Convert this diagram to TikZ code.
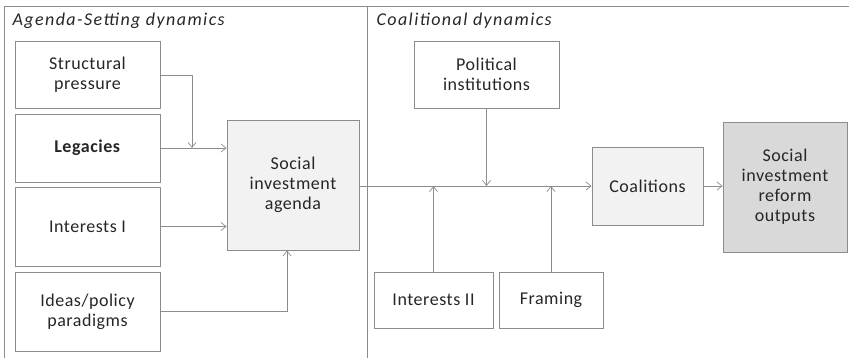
\documentclass[tikz,border=0pt]{standalone}
\usepackage{fontspec}
\setmainfont{Carlito}[LetterSpace=3]
\usetikzlibrary{arrows.meta}
\definecolor{edgegray}{HTML}{8C8C8C}
\definecolor{lightfill}{HTML}{F2F2F2}
\definecolor{darkfill}{HTML}{D9D9D9}
\begin{document}
\begin{tikzpicture}[x=1pt, y=-1pt,
  box/.style={draw=edgegray, line width=0.8pt, align=center, inner sep=2pt,
    font=\fontsize{18}{20}\selectfont, text=black!85},
  link/.style={draw=edgegray, line width=0.7pt, -{Straight Barb[length=5pt, width=8pt]}},
  title/.style={anchor=west, font=\fontsize{18}{20}\selectfont\itshape\addfontfeature{LetterSpace=8}, text=black!85}]
\useasboundingbox (0,0) rectangle (849,358);
% frame of the two panels
\draw[edgegray, line width=0.8pt] (4,358) -- (4,6) -- (849,6);
\draw[edgegray, line width=0.8pt] (367,6) -- (367,358);
\node (t1)[title] at (9,21) {Agenda-Setting dynamics};
\node (t2)[title] at (373,21) {Coalitional dynamics};
% agenda-setting side
\node (sp)[box, minimum width=145, minimum height=67] at (87.5,74.5) {Structural\\pressure};
\node (leg)[box, minimum width=145, minimum height=68] at (87.5,148) {\textbf{Legacies}};
\node (int1)[box, minimum width=145, minimum height=79] at (87.5,226.5) {Interests I};
\node (ideas)[box, minimum width=145, minimum height=79] at (87.5,311.5) {Ideas/policy\\paradigms};
\node (sia)[box, fill=lightfill, minimum width=132, minimum height=130] at (293,185) {Social\\investment\\agenda};
% coalitional side
\node (pol)[box, minimum width=145, minimum height=67] at (486.5,74.5) {Political\\institutions};
\node (int2)[box, minimum width=119, minimum height=56] at (433.5,300) {Interests II};
\node (fram)[box, minimum width=104, minimum height=56] at (551,300) {Framing};
\node (coal)[box, fill=lightfill, minimum width=111, minimum height=78] at (647.5,186) {Coalitions};
\node (siro)[box, fill=darkfill, minimum width=124, minimum height=130] at (785,187) {Social\\investment\\reform\\outputs};
\coordinate (m1) at (192,148);
\coordinate (main) at (0,186);
% connectors
\draw[link] (sp.east |- 0,75) -| (m1);
\draw[link] (leg.east) -- (leg.east -| sia.west);
\draw[link] (int1.east) -- (int1.east -| sia.west);
\draw[link] (ideas.east) -| ([xshift=-6pt]sia.south);
\draw[link] (sia.east |- main) -- (coal.west);
\draw[link] (pol.south) -- (pol.south |- main);
\draw[link] (int2.north) -- (int2.north |- main);
\draw[link] (fram.north) -- (fram.north |- main);
\draw[link] (coal.east) -- (coal.east -| siro.west);
\end{tikzpicture}
\end{document}
